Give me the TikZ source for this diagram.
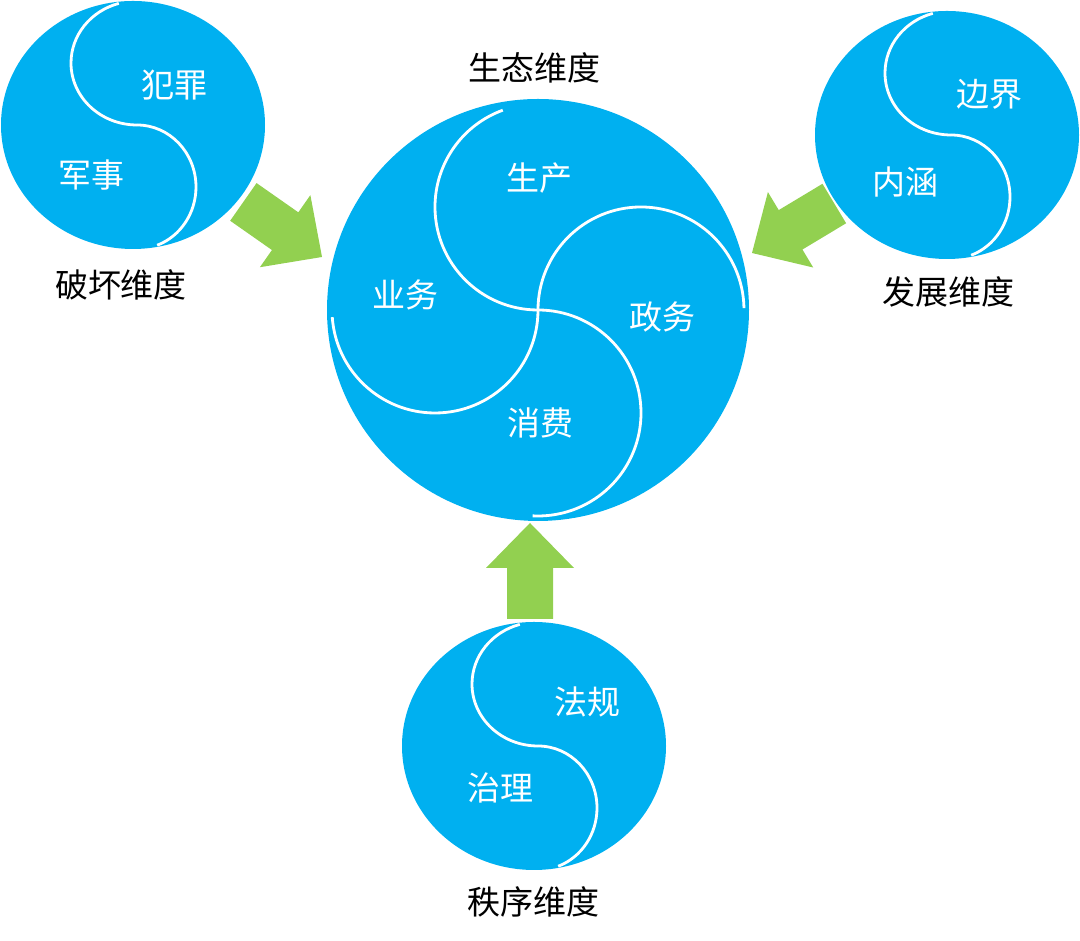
\documentclass[tikz,border=0pt]{standalone}
\usepackage{fontspec}
\setmainfont{Noto Sans CJK SC}
\definecolor{skyblue}{RGB}{0,176,240}
\definecolor{leafgreen}{RGB}{146,208,80}

\begin{document}
\begin{tikzpicture}[x=1pt,y=1pt,
  ball/.style={fill=skyblue},
  swirl/.style={draw=white,line width=2.8pt},
  inner label/.style={text=white,font=\fontsize{33}{36}\selectfont},
  dim label/.style={text=black,font=\fontsize{33}{36}\selectfont},
  big arrow/.style={fill=leafgreen}]

  \useasboundingbox (0,0) rectangle (1080,941);

  \coordinate (eco) at (538,631);
  \coordinate (harm) at (133,816);
  \coordinate (grow) at (947,806);
  \coordinate (order) at (534,195);

  \fill[ball] (eco) circle (211);
  \draw[swirl] (eco) arc[start angle=270,end angle=110,radius=103];
  \draw[swirl] (eco) arc[start angle=90,end angle=-93,radius=103];
  \draw[swirl] (eco) arc[start angle=180,end angle=1,radius=103];
  \draw[swirl] (eco) arc[start angle=0,end angle=-176,radius=103];

  \foreach \c in {harm,grow,order} {
    \fill[ball] (\c) ellipse[x radius=132,y radius=124];
    \draw[swirl] ([xshift=4]\c) arc[start angle=270,end angle=106,x radius=66,y radius=62];
    \draw[swirl] ([xshift=4]\c) arc[start angle=90,end angle=-70,x radius=59,y radius=62];
  }

  \foreach \x/\y/\ang in {322/684/-35, 752/688/211, 530/418/90}
    \fill[big arrow,shift={(\x,\y)},rotate=\ang] (0,0) -- (-45,44) -- (-45,23)
      -- (-96,23) -- (-96,-23) -- (-45,-23) -- (-45,-44) -- cycle;

  \node[dim label] (ecotitle) at (534,873) {生态维度};
  \node[inner label] (prod) at (539,763) {生产};
  \node[inner label] (biz) at (405,646) {业务};
  \node[inner label] (gov) at (662,624) {政务};
  \node[inner label] (cons) at (540,518) {消费};

  \node[inner label] (crime) at (174,856) {犯罪};
  \node[inner label] (army) at (91,766) {军事};
  \node[dim label] (harmtitle) at (121,656) {破坏维度};

  \node[inner label] (border) at (989,847) {边界};
  \node[inner label] (core) at (905,759) {内涵};
  \node[dim label] (growtitle) at (948,649) {发展维度};

  \node[inner label] (law) at (587,239) {法规};
  \node[inner label] (rule) at (500,153) {治理};
  \node[dim label] (ordertitle) at (533,39) {秩序维度};
\end{tikzpicture}
\end{document}
